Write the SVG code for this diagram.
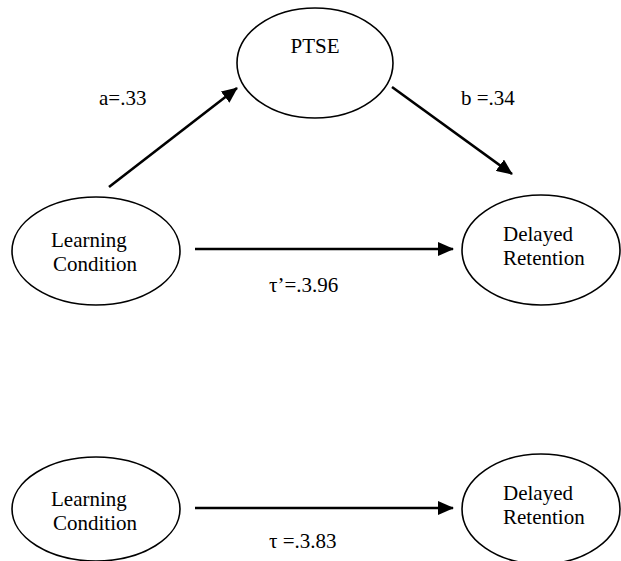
<svg xmlns="http://www.w3.org/2000/svg" width="621" height="561" viewBox="0 0 621 561">
  <style>
    .node { fill: #fff; stroke: #000; stroke-width: 1.6; }
    .lbl { font-family: "Liberation Serif", "Times New Roman", serif; font-size: 21px; fill: #000; }
    .edge { stroke: #000; stroke-width: 2.6; fill: none; marker-end: url(#arrow); }
  </style>
  <defs>
    <marker id="arrow" viewBox="0 0 16 14" refX="15" refY="7" markerWidth="16" markerHeight="14" markerUnits="userSpaceOnUse" orient="auto">
      <path d="M0,0 L16,7 L0,14 z" fill="#000"/>
    </marker>
  </defs>
  <rect width="621" height="561" fill="#fff"/>

  <!-- mediation model -->
  <g id="ptse">
    <ellipse class="node" cx="315" cy="63" rx="78" ry="55"/>
    <text class="lbl" x="315" y="53" text-anchor="middle">PTSE</text>
  </g>
  <g id="learning-condition-1">
    <ellipse class="node" cx="96" cy="251" rx="84" ry="54"/>
    <text class="lbl" x="51" y="247">Learning</text>
    <text class="lbl" x="53" y="271">Condition</text>
  </g>
  <g id="delayed-retention-1">
    <ellipse class="node" cx="541" cy="250" rx="79" ry="55"/>
    <text class="lbl" x="503" y="241">Delayed</text>
    <text class="lbl" x="503" y="265">Retention</text>
  </g>

  <!-- total effect model -->
  <g id="learning-condition-2">
    <ellipse class="node" cx="96" cy="509" rx="84" ry="52"/>
    <text class="lbl" x="51" y="506">Learning</text>
    <text class="lbl" x="53" y="530">Condition</text>
  </g>
  <g id="delayed-retention-2">
    <ellipse class="node" cx="541" cy="509" rx="79" ry="55"/>
    <text class="lbl" x="503" y="500">Delayed</text>
    <text class="lbl" x="503" y="524">Retention</text>
  </g>

  <g id="connectors">
    <line class="edge" x1="109" y1="187" x2="237" y2="88"/>
    <line class="edge" x1="392" y1="87" x2="512" y2="174"/>
    <line class="edge" x1="195" y1="249" x2="453" y2="249"/>
    <line class="edge" x1="195" y1="508" x2="453" y2="508"/>
    <text class="lbl" x="99" y="105">a=.33</text>
    <text class="lbl" x="461" y="105">b =.34</text>
    <text class="lbl" x="269" y="292">τ’=.3.96</text>
    <text class="lbl" x="269" y="548">τ =.3.83</text>
  </g>
</svg>
